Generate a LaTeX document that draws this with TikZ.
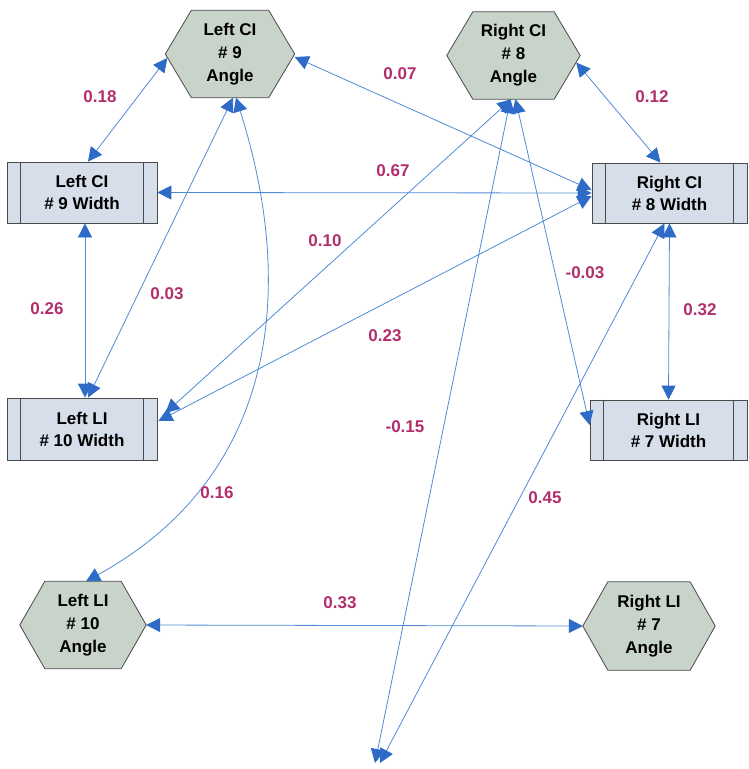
\documentclass[tikz,border=0pt]{standalone}
\usepackage{fontspec}
\setmainfont{Liberation Sans}
\usetikzlibrary{arrows.meta,calc,backgrounds}
\definecolor{hexfill}{HTML}{C8D3CA}
\definecolor{recfill}{HTML}{D6DEE9}
\definecolor{edgeline}{HTML}{4F8AD6}
\definecolor{tipblue}{HTML}{2E6BC6}
\definecolor{lbl}{HTML}{B22E6C}
\definecolor{border}{HTML}{4A4A4A}
\tikzset{
  hexbox/.style={draw=none, inner sep=0pt, align=center,
    font=\fontsize{17}{23}\selectfont\bfseries},
  hexline/.style={draw=border, fill=hexfill, line width=0.8pt},
  recbox/.style={draw=border, fill=recfill, line width=0.8pt, inner sep=0pt,
    align=center, minimum height=61pt,
    font=\fontsize{17}{22}\selectfont\bfseries},
  recinner/.style={draw=border, line width=0.8pt},
  conn/.style={draw=edgeline, line width=0.8pt,
    {Triangle[length=14pt,width=14pt,color=tipblue]}-{Triangle[length=14pt,width=14pt,color=tipblue]}},
  wlabel/.style={text=lbl, font=\fontsize{17}{20}\selectfont\bfseries, inner sep=1pt}
}
\newcommand\drawhex[2]{% name, side offset
  \begin{pgfonlayer}{background}
  \path[hexline] (#1.west) -- ([xshift=#2]#1.north west) -- ([xshift=-#2]#1.north east)
    -- (#1.east) -- ([xshift=-#2]#1.south east) -- ([xshift=#2]#1.south west) -- cycle;
  \end{pgfonlayer}}
\newcommand\drawinner[1]{%
  \draw[recinner] ([xshift=14pt]#1.north west) -- ([xshift=14pt]#1.south west);
  \draw[recinner] ([xshift=-14pt]#1.north east) -- ([xshift=-14pt]#1.south east);}
\begin{document}
\begin{tikzpicture}[x=1pt,y=-1pt]
\useasboundingbox (0,0) rectangle (748,769);

% hexagon nodes
\node[hexbox, minimum width=129pt, minimum height=87pt] (LCA) at (230,54) {Left CI\\\# 9\\Angle};
\node[hexbox, minimum width=133pt, minimum height=87pt] (RCA) at (513.5,55.5) {Right CI\\\# 8\\Angle};
\node[hexbox, minimum width=126pt, minimum height=87pt] (LLA) at (83,625) {Left LI\\\# 10\\Angle};
\node[hexbox, minimum width=132pt, minimum height=88pt] (RLA) at (649,626) {Right LI\\\# 7\\Angle};
\drawhex{LCA}{26pt}
\drawhex{RCA}{26pt}
\drawhex{LLA}{25pt}
\drawhex{RLA}{25pt}

% rectangle nodes
\node[recbox, minimum width=150pt] (LCW) at (82,192.5) {Left CI\\\# 9 Width};
\node[recbox, minimum width=155pt, minimum height=60pt] (RCW) at (669.5,193) {Right CI\\\# 8 Width};
\node[recbox, minimum width=150pt, minimum height=62pt] (LLW) at (82,429) {Left LI\\\# 10 Width};
\node[recbox, minimum width=157pt, minimum height=60pt] (RLW) at (668.5,430) {Right LI\\\# 7 Width};
\drawinner{LCW}
\drawinner{RCW}
\drawinner{LLW}
\drawinner{RLW}

\coordinate (B) at (377,763);

% connectors
\draw[conn] ($(LCA.west)+(2,4)$) -- ($(LCW.north)+(6,0)$);
\draw[conn] ($(LCA.east)+(0,3)$) -- ($(RCW.west)+(0,-3)$);
\draw[conn] ($(RCA.east)+(-4,7)$) -- ($(RCW.north)+(-9,0)$);
\draw[conn] (LCW.east) -- (RCW.west);
\draw[conn] ($(LCW.south)+(3,0)$) -- ($(LLW.north)+(3,0)$);
\draw[conn] ($(LCA.south)+(3,0)$) -- ($(LLW.north)+(6,0)$);
\draw[conn] ($(RCA.south)+(-2,0)$) -- ($(LLW.east)+(8,-16)$);
\draw[conn] ($(RCW.west)+(0,3)$) -- ($(LLW.east)+(1,-8)$);
\draw[conn] (RCW.south) -- (RLW.north);
\draw[conn] ($(RCA.south)+(2,0)$) -- ($(RLW.west)+(0,-5)$);
\draw[conn] ($(LCA.south)+(6,0)$) .. controls (300,300) and (270,480) .. ($(LLA.north)+(3,0)$);
\draw[conn] ($(RCA.south)+(-3,0)$) -- ($(B)+(-2,0)$);
\draw[conn] ($(RCW.south)+(-5,0)$) -- ($(B)+(3,0)$);
\draw[conn] (LLA.east) -- (RLA.west);

% labels
\node[wlabel] (l1) at (100,97) {0.18};
\node[wlabel] (l2) at (400,74) {0.07};
\node[wlabel] (l3) at (652,97) {0.12};
\node[wlabel] (l4) at (393,171) {0.67};
\node[wlabel] (l5) at (325,241) {0.10};
\node[wlabel] (l6) at (47,309) {0.26};
\node[wlabel] (l7) at (167,294) {0.03};
\node[wlabel] (l8) at (585,273) {-0.03};
\node[wlabel] (l9) at (700,310) {0.32};
\node[wlabel] (l10) at (385,336) {0.23};
\node[wlabel] (l11) at (405,427) {-0.15};
\node[wlabel] (l12) at (217,493) {0.16};
\node[wlabel] (l13) at (545,498) {0.45};
\node[wlabel] (l14) at (340,603) {0.33};
\end{tikzpicture}
\end{document}
